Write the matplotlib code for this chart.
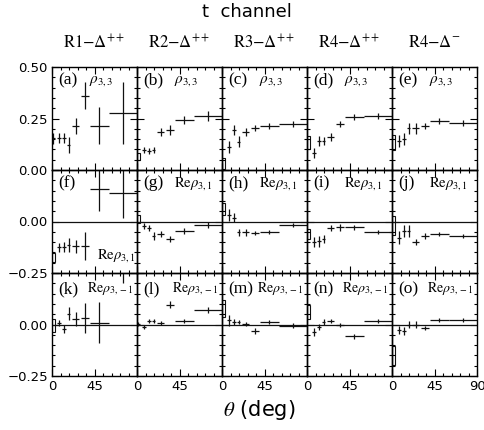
import numpy as np
import matplotlib.pyplot as plt
from matplotlib.ticker import MultipleLocator, FixedLocator

plt.rcParams['mathtext.fontset'] = 'stix'

# ---------- data: spin density matrix elements vs theta ---------- #

theta = [1.5, 7.5, 12.5, 17.5, 25, 35, 50, 75]
theta_err = [1.5, 2, 2, 2, 4, 4, 10, 15]

reactions = [r'R1$-\Delta^{++}$', r'R2$-\Delta^{++}$', r'R3$-\Delta^{++}$',
             r'R4$-\Delta^{++}$', r'R4$-\Delta^{-}$']

# rho_33
rho33_val = [
    [0.154, 0.157, 0.157, 0.121, 0.214, 0.360, 0.214, 0.275],
    [0.065, 0.097, 0.094, 0.097, 0.183, 0.194, 0.243, 0.262],
    [0.032, 0.113, 0.194, 0.138, 0.186, 0.205, 0.215, 0.225],
    [0.134, 0.081, 0.141, 0.141, 0.162, 0.222, 0.256, 0.264],
    [0.134, 0.141, 0.150, 0.202, 0.202, 0.214, 0.238, 0.227],
]
rho33_err = [
    [0.028, 0.025, 0.025, 0.040, 0.040, 0.065, 0.090, 0.150],
    [0.016, 0.015, 0.015, 0.015, 0.020, 0.025, 0.020, 0.025],
    [0.025, 0.030, 0.025, 0.025, 0.020, 0.015, 0.015, 0.015],
    [0.030, 0.025, 0.025, 0.020, 0.020, 0.015, 0.015, 0.015],
    [0.035, 0.030, 0.030, 0.025, 0.025, 0.015, 0.015, 0.015],
]

# Re rho_31
re31_val = [
    [-0.175, -0.126, -0.123, -0.113, -0.121, -0.118, 0.160, 0.140],
    [0.011, -0.021, -0.030, -0.070, -0.061, -0.086, -0.045, -0.016],
    [0.060, 0.032, 0.019, -0.053, -0.053, -0.057, -0.053, -0.016],
    [-0.060, -0.100, -0.097, -0.086, -0.032, -0.029, -0.029, -0.053],
    [-0.020, -0.078, -0.045, -0.045, -0.100, -0.070, -0.061, -0.070],
]
re31_err = [
    [0.022, 0.020, 0.025, 0.035, 0.030, 0.068, 0.110, 0.125],
    [0.020, 0.015, 0.015, 0.020, 0.015, 0.015, 0.015, 0.015],
    [0.030, 0.030, 0.020, 0.015, 0.015, 0.010, 0.010, 0.010],
    [0.025, 0.025, 0.025, 0.020, 0.015, 0.015, 0.010, 0.010],
    [0.045, 0.030, 0.030, 0.030, 0.015, 0.015, 0.010, 0.010],
]

# Re rho_3,-1
re3m1_val = [
    [-0.005, 0.007, -0.021, 0.053, 0.028, 0.031, 0.008, 0.330],
    [0.003, -0.013, 0.017, 0.017, 0.008, 0.097, 0.017, 0.070],
    [0.078, 0.020, 0.012, 0.012, 0.003, -0.030, 0.012, -0.005],
    [0.061, -0.035, -0.013, 0.012, 0.017, -0.002, -0.058, 0.015],
    [-0.150, -0.026, -0.030, 0.000, 0.000, -0.016, 0.020, 0.020],
]
re3m1_err = [
    [0.030, 0.015, 0.020, 0.030, 0.035, 0.074, 0.100, 0.130],
    [0.010, 0.010, 0.012, 0.012, 0.010, 0.015, 0.010, 0.015],
    [0.040, 0.025, 0.015, 0.010, 0.010, 0.015, 0.010, 0.010],
    [0.035, 0.020, 0.015, 0.015, 0.012, 0.010, 0.010, 0.010],
    [0.045, 0.020, 0.020, 0.015, 0.015, 0.010, 0.010, 0.010],
]

rows = [
    (rho33_val, rho33_err, r'$\rho_{3,3}$', (0.0, 0.5)),
    (re31_val, re31_err, r'$\mathrm{Re}\rho_{3,1}$', (-0.25, 0.25)),
    (re3m1_val, re3m1_err, r'$\mathrm{Re}\rho_{3,-1}$', (-0.25, 0.25)),
]
name_size = [11, 10.5, 10]
name_x = [0.44, 0.44, 0.41]
letters = 'abcdefghijklmno'

# ---------------- layout ---------------- #

fig = plt.figure(figsize=(4.84, 4.30), dpi=100)
left, width = 52 / 484, 85 / 484
tops = [67, 170, 273]
height = 103 / 430

for r, (vals, errs, name, ylim) in enumerate(rows):
    for c in range(5):
        ax = fig.add_axes([left + c * width, 1 - (tops[r] + 103) / 430,
                           width, height])
        ax.set_zorder(10 - c)
        ax.patch.set_alpha(0)
        y = vals[c]
        e = errs[c]
        # first bin drawn as an open error box
        boxed = not (r == 0 and c == 0) and not (r == 2 and c == 1)
        start = 1 if boxed else 0
        if boxed:
            ax.bar(theta[0], 2 * e[0], bottom=y[0] - e[0], width=3,
                   fill=False, edgecolor='#111111', linewidth=0.8)
        ax.errorbar(theta[start:], y[start:], xerr=theta_err[start:],
                    yerr=e[start:], fmt='none', ecolor='#111111',
                    elinewidth=0.9, capsize=0)
        if r > 0:
            ax.axhline(0, color='#111111', lw=0.9)

        ax.set_xlim(0, 90)
        ax.set_ylim(*ylim)
        ax.xaxis.set_major_locator(FixedLocator([0, 45, 90]))
        ax.xaxis.set_minor_locator(MultipleLocator(9))
        ax.yaxis.set_major_locator(FixedLocator([ylim[0], ylim[0] + 0.25,
                                                 ylim[1]]))
        ax.yaxis.set_minor_locator(MultipleLocator(0.05))
        ax.tick_params(which='both', direction='in', top=True, right=True,
                       labelsize=9.5, pad=3, width=0.8)
        ax.tick_params(which='major', length=5)
        ax.tick_params(which='minor', length=2.5)
        for s in ax.spines.values():
            s.set_linewidth(1.0)

        if r == 2:
            ax.set_xticklabels(['0', '45', '90' if c == 4 else ''])
        else:
            ax.set_xticklabels([])
        if c == 0:
            if r == 0:
                ax.set_yticklabels(['0.00', '0.25', '0.50'])
            else:
                ax.set_yticklabels(['\u22120.25', '0.00', ''])
        else:
            ax.set_yticklabels([])

        ly = 0.845 if r == 2 else 0.87
        ax.text(0.07, ly, '(%s)' % letters[r * 5 + c], transform=ax.transAxes,
                family='Liberation Serif', fontsize=12.5, va='center')
        if r == 1 and c == 0:
            ax.text(0.53, 0.165, name, transform=ax.transAxes,
                    fontsize=name_size[r], va='center')
        else:
            ax.text(name_x[r], ly, name, transform=ax.transAxes,
                    fontsize=name_size[r], va='center')

        if r == 0:
            ax.text(0.5, 1.23, reactions[c], transform=ax.transAxes,
                    family='STIXGeneral', fontsize=12, ha='center',
                    va='center')

fig.text(0.51, 0.972, 't  channel', ha='center', va='center', fontsize=13)
fig.text(0.535, 0.047, r'$\theta$ (deg)', ha='center', va='center',
         fontsize=15)

fig.savefig('out.png', dpi=100)
